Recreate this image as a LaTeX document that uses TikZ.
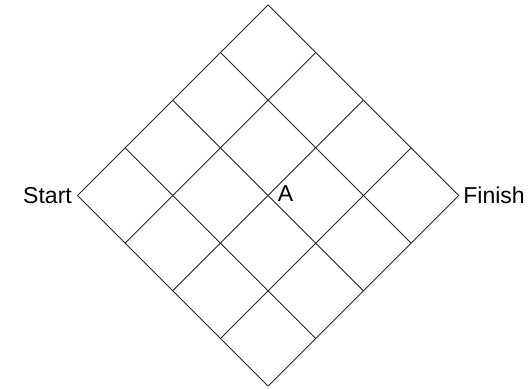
\documentclass[tikz,border=0pt]{standalone}
\usepackage{fontspec}
\setmainfont{Liberation Sans}
\begin{document}
\begin{tikzpicture}[x=1pt,y=1pt,
  gridline/.style={line width=0.9pt,draw=black!85},
  lbl/.style={font=\fontsize{23}{27}\selectfont,inner sep=0pt}]
\useasboundingbox (0,0) rectangle (532,388);
\def\s{47.65}
\foreach \i in {0,...,4}{
  \foreach \j in {0,...,4}{
    \coordinate (p-\i-\j) at ({77.5+(\i+\j)*\s},{192.5+(\i-\j)*\s});
  }
}
\foreach \k in {0,...,4}{
  \draw[gridline] (p-\k-0) -- (p-\k-4);
  \draw[gridline] (p-0-\k) -- (p-4-\k);
}
\node[lbl,anchor=east,xshift=-5.5pt] (start) at (p-0-0) {Start};
\node[lbl,anchor=west,xshift=4.5pt] (finish) at (p-4-4) {Finish};
\node[lbl,anchor=west,xshift=9.5pt,yshift=2pt] (a) at (p-2-2) {A};
\end{tikzpicture}
\end{document}
